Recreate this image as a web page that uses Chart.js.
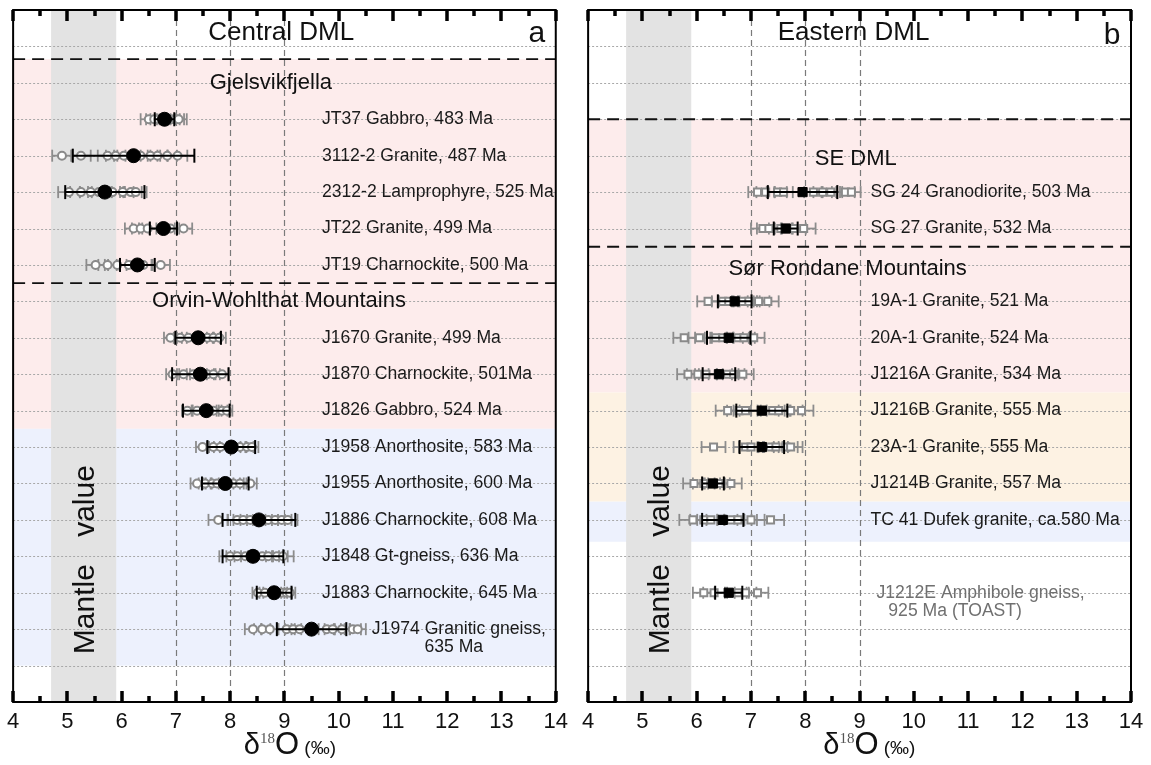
<!DOCTYPE html>
<html><head><meta charset="utf-8">
<script src="https://cdn.jsdelivr.net/npm/chart.js@4.4.1/dist/chart.umd.min.js"></script>
<style>
html,body{margin:0;padding:0;background:#fff;width:1151px;height:765px;overflow:hidden}
canvas{position:absolute;top:0}
#cA{left:0}
#cB{left:575px}
</style></head><body>
<canvas id="cA" width="575" height="765"></canvas>
<canvas id="cB" width="576" height="765"></canvas>
<script>
// ================= DATA =================
const xTicks = [4,5,6,7,8,9,10,11,12,13,14];
const xMinorTicks = [4.5,5.5,6.5,7.5,8.5,9.5,10.5,11.5,12.5,13.5];
const mantleRange = [4.7, 5.9];

// ---- Panel a: Central DML ----
const aSamples = ['JT37 Gabbro, 483 Ma','3112-2 Granite, 487 Ma','2312-2 Lamprophyre, 525 Ma','JT22 Granite, 499 Ma','JT19 Charnockite, 500 Ma',
  'J1670 Granite, 499 Ma','J1870 Charnockite, 501Ma','J1826 Gabbro, 524 Ma','J1958 Anorthosite, 583 Ma','J1955 Anorthosite, 600 Ma',
  'J1886 Charnockite, 608 Ma','J1848 Gt-gneiss, 636 Ma','J1883 Charnockite, 645 Ma','J1974 Granitic gneiss,\n635 Ma'];
const aRows = [3,4,5,6,7,9,10,11,12,13,14,15,16,17];
const aMean = [6.79,6.22,5.69,6.77,6.29,7.41,7.45,7.56,8.02,7.91,8.53,8.42,8.81,9.50];
const aMeanErr = [0.18,1.12,0.73,0.25,0.32,0.42,0.52,0.43,0.44,0.43,0.67,0.56,0.32,0.64];
const aSpots = [
  [6.5,6.6,6.68,6.85,6.92,7.0,7.05],
  [4.9,5.25,5.74,5.89,6.04,6.35,6.53,6.66,6.84,7.03],
  [5.03,5.25,5.43,5.58,5.83,6.02,6.17,6.26],
  [6.22,6.35,6.48,6.9,7.14],
  [5.52,5.74,5.92,6.13,6.4,6.72],
  [6.9,7.08,7.23,7.58,7.69,7.8],
  [6.94,7.14,7.32,7.58,7.69,7.85],
  [7.21,7.39,7.69,7.85,7.94],
  [7.49,7.69,7.82,8.18,8.31,8.4],
  [7.39,7.54,7.67,7.76,8.06,8.18,8.37],
  [7.78,8.13,8.24,8.37,8.7,8.83,8.95,9.06],
  [8.0,8.13,8.28,8.59,8.7,8.86,8.97],
  [8.51,8.64,8.95,9.04,9.1],
  [8.42,8.59,8.73,9.04,9.16,9.28,9.78,9.89,10.06,10.26,10.35]
];
const aSpotErr = [0.15,0.18,0.2,0.16,0.17,0.12,0.12,0.1,0.12,0.12,0.18,0.2,0.1,0.15];
const aGroups = ['Central DML','a','Gjelsvikfjella','Orvin-Wohlthat Mountains'];

// ---- Panel b: Eastern DML ----
const bSamples = ['SG 24 Granodiorite, 503 Ma','SG 27 Granite, 532 Ma','19A-1 Granite, 521 Ma','20A-1 Granite, 524 Ma','J1216A Granite, 534 Ma',
  'J1216B Granite, 555 Ma','23A-1 Granite, 555 Ma','J1214B Granite, 557 Ma','TC 41 Dufek granite, ca.580 Ma','J1212E Amphibole gneiss,\n925 Ma (TOAST)'];
const bRows = [5,6,8,9,10,11,12,13,14,16];
const bMean = [7.95,7.64,6.70,6.59,6.41,7.20,7.20,6.30,6.48,6.59];
const bMeanErr = [0.64,0.22,0.31,0.40,0.30,0.47,0.41,0.20,0.38,0.25];
const bSpots = [
  [7.12,7.27,7.49,7.6,8.15,8.32,8.47,8.74,8.85],
  [7.22,7.33,7.55,7.79,7.97],
  [6.21,6.48,6.59,6.85,6.96,7.14,7.31],
  [5.77,6.05,6.35,6.48,6.76,6.87,7.05],
  [5.84,6.02,6.17,6.57,6.68,6.85],
  [6.57,6.78,6.9,7.4,7.51,7.73,7.93],
  [6.31,6.9,7.0,7.36,7.46,7.64,7.73],
  [5.95,6.13,6.32,6.41,6.63],
  [5.93,6.13,6.26,6.63,6.76,7.0,7.36],
  [6.13,6.32,6.76,6.9,7.12]
];
const bSpotErr = [0.17,0.22,0.2,0.2,0.2,0.22,0.22,0.2,0.25,0.2];
const bGroups = ['Eastern DML','b','SE DML','Sør Rondane Mountains'];

// ================= LAYOUT / STYLE =================
const FONT = "'Liberation Sans', Arial, sans-serif";
const LABEL_FONT = '17.6px ' + FONT;
const PANELS = {
  cA: {
    samples:aSamples, rows:aRows, mean:aMean, meanErr:aMeanErr, spots:aSpots, spotErr:aSpotErr,
    style:'circle', meanR:7, spotR:4, padRight:18,
    labelX:[9.69,9.69,9.69,9.69,9.69,9.69,9.69,9.69,9.69,9.69,9.69,9.69,9.69,10.61],
    labelX2:[0,0,0,0,0,0,0,0,0,0,0,0,0,11.58],
    labelColor:aSamples.map(()=> '#1a1a1a'),
    groupText:[
      {i:0,x:8.94,y:0.63,size:26},
      {i:1,x:13.65,y:0.66,size:30},
      {i:2,x:8.75,y:2,size:22},
      {i:3,x:8.9,y:8,size:22}],
    groups:aGroups,
    bands:[{from:1.35,to:11.5,color:'#fdecec'},{from:11.5,to:18,color:'#edf1fd'}],
    separators:[1.35,7.5],
    titleX:9.1
  },
  cB: {
    samples:bSamples, rows:bRows, mean:bMean, meanErr:bMeanErr, spots:bSpots, spotErr:bSpotErr,
    style:'rect', meanR:6.5, spotR:5, padRight:20,
    labelX:[9.2,9.2,9.2,9.2,9.2,9.2,9.2,9.2,9.2,9.31],
    labelX2:[0,0,0,0,0,0,0,0,0,9.53],
    labelColor:['#1a1a1a','#1a1a1a','#1a1a1a','#1a1a1a','#1a1a1a','#1a1a1a','#1a1a1a','#1a1a1a','#1a1a1a','#707070'],
    groupText:[
      {i:0,x:8.89,y:0.63,size:26},
      {i:1,x:13.65,y:0.72,size:30},
      {i:2,x:8.93,y:4.1,size:22},
      {i:3,x:8.78,y:7.1,size:22}],
    groups:bGroups,
    bands:[{from:3,to:10.5,color:'#fdecec'},{from:10.5,to:13.5,color:'#fdf2e3'},{from:13.5,to:14.6,color:'#edf1fd'}],
    separators:[3,6.5],
    titleX:9.18
  }
};

function line(ctx,x0,y0,x1,y1){ctx.beginPath();ctx.moveTo(x0,y0);ctx.lineTo(x1,y1);ctx.stroke();}
function txt(ctx,s,px,py,font,color,align){ctx.font=font;ctx.fillStyle=color;ctx.textAlign=align;ctx.textBaseline='middle';ctx.fillText(s,px,py);}

function drawFrameTicks(ctx, ca, x){
  ctx.save();
  ctx.setLineDash([]);
  ctx.fillStyle='#000';
  xTicks.forEach(v=>{
    const px=Math.round(x.getPixelForValue(v));
    ctx.fillRect(px-1.5, ca.top, 3, 11);
    ctx.fillRect(px-1.5, ca.bottom-11, 3, 11);
  });
  xMinorTicks.forEach(v=>{
    const px=Math.round(x.getPixelForValue(v));
    ctx.fillRect(px-1.5, ca.top, 3, 6);
    ctx.fillRect(px-1.5, ca.bottom-6, 3, 6);
  });
  ctx.restore();
}

const panelPlugin = {
  id:'panel',
  beforeDatasetsDraw(chart){
    const P = PANELS[chart.canvas.id];
    const {ctx, chartArea:ca, scales:{x,y}} = chart;
    ctx.save();
    ctx.beginPath(); ctx.rect(ca.left,ca.top,ca.width,ca.height); ctx.clip();
    P.bands.forEach(b=>{
      const y0=y.getPixelForValue(b.from), y1=y.getPixelForValue(b.to);
      ctx.fillStyle=b.color; ctx.fillRect(ca.left,y0,ca.width,y1-y0);
    });
    const mx0=x.getPixelForValue(mantleRange[0]), mx1=x.getPixelForValue(mantleRange[1]);
    ctx.fillStyle='#e3e3e3'; ctx.fillRect(mx0,ca.top,mx1-mx0,ca.height);
    // dotted row grid
    ctx.strokeStyle='#a8a8a8'; ctx.lineWidth=1; ctx.setLineDash([2,2]);
    for(let r=1;r<=18;r++){
      const py=Math.round(y.getPixelForValue(r))+0.5;
      line(ctx,ca.left,py,ca.right,py);
    }
    // vertical dashed at 7,8,9
    ctx.strokeStyle='#7a7a7a'; ctx.lineWidth=1.2; ctx.setLineDash([6,4]);
    [7,8,9].forEach(v=>{const px=Math.round(x.getPixelForValue(v))+0.5; line(ctx,px,ca.top,px,ca.bottom);});
    // black separators
    ctx.strokeStyle='#111'; ctx.lineWidth=1.8; ctx.setLineDash([12,7]);
    P.separators.forEach(v=>{const py=y.getPixelForValue(v); line(ctx,ca.left,py,ca.right,py);});
    ctx.setLineDash([]);
    // mantle value text
    const mc=(mx0+mx1)/2;
    ctx.save();
    ctx.translate(mc+2,0);
    ctx.rotate(-Math.PI/2);
    txt(ctx,'value',-y.getPixelForValue(13.48),0,'30px '+FONT,'#111','center');
    txt(ctx,'Mantle',-y.getPixelForValue(16.45),0,'30px '+FONT,'#111','center');
    ctx.restore();
    ctx.restore();
    drawFrameTicks(ctx, ca, x);
  },
  beforeDatasetDraw(chart,args){
    const ds=chart.data.datasets[args.index];
    const {ctx, scales:{x,y}} = chart;
    ctx.save();
    ctx.setLineDash([]);
    ctx.strokeStyle=ds.errColor; ctx.lineWidth=ds.errWidth;
    ds.data.forEach(p=>{
      const xl=x.getPixelForValue(p.x-p.err), xr=x.getPixelForValue(p.x+p.err), py=y.getPixelForValue(p.y);
      line(ctx,xl,py,xr,py);
      line(ctx,xl,py-ds.capH,xl,py+ds.capH);
      line(ctx,xr,py-ds.capH,xr,py+ds.capH);
    });
    ctx.restore();
  },
  afterDraw(chart){
    const P = PANELS[chart.canvas.id];
    const ctx = chart.ctx, ca = chart.chartArea, x = chart.scales.x, y = chart.scales.y;
    ctx.save();
    ctx.setLineDash([]);
    // sample labels
    P.samples.forEach((s,i)=>{
      const parts=s.split('\n');
      txt(ctx,parts[0],x.getPixelForValue(P.labelX[i]),y.getPixelForValue(P.rows[i]),LABEL_FONT,P.labelColor[i],'left');
      if(parts[1]) txt(ctx,parts[1],x.getPixelForValue(P.labelX2[i]),y.getPixelForValue(P.rows[i]+0.5),LABEL_FONT,P.labelColor[i],'left');
    });
    P.groupText.forEach(g=>{
      txt(ctx,P.groups[g.i],x.getPixelForValue(g.x),y.getPixelForValue(g.y),g.size+'px '+FONT,'#111','center');
    });
    // frame
    ctx.strokeStyle='#000'; ctx.lineWidth=2;
    ctx.strokeRect(ca.left,ca.top,ca.width,ca.height);
    ctx.restore();
    drawFrameTicks(ctx, ca, x);
    // axis title  δ18O (‰)
    ctx.save();
    const parts=[
      {t:'δ',f:'29px '+FONT,c:'#111',dy:0},
      {t:'18',f:'15px "Liberation Serif", serif',c:'#555',dy:-11},
      {t:'O',f:'31px '+FONT,c:'#111',dy:0},
      {t:' (‰)',f:'19px '+FONT,c:'#111',dy:0}];
    let w=0; parts.forEach(p=>{ctx.font=p.f; p.w=ctx.measureText(p.t).width; w+=p.w;});
    let cx=x.getPixelForValue(P.titleX)-w/2; const by=ca.bottom+52;
    ctx.textBaseline='alphabetic'; ctx.textAlign='left';
    parts.forEach(p=>{ctx.font=p.f; ctx.fillStyle=p.c; ctx.fillText(p.t,cx,by+p.dy); cx+=p.w;});
    ctx.restore();
  }
};

function buildPanel(id){
  const P = PANELS[id];
  const meanPts = P.rows.map((r,i)=>({x:P.mean[i], y:r, err:P.meanErr[i]}));
  const spotPts = [];
  P.rows.forEach((r,i)=>P.spots[i].forEach(v=>spotPts.push({x:v, y:r, err:P.spotErr[i]})));
  return new Chart(document.getElementById(id), {
    type:'scatter',
    data:{datasets:[
      {label:'mean', data:meanPts, pointStyle:P.style, pointRadius:P.meanR, backgroundColor:'#000', borderColor:'#000', borderWidth:1,
       errColor:'#000', errWidth:2, capH:7},
      {label:'spots', data:spotPts, pointStyle:P.style, pointRadius:P.spotR, backgroundColor:'#ffffff', borderColor:'#8a8a8a', borderWidth:2,
       errColor:'#8c8c8c', errWidth:1.8, capH:6}
    ]},
    options:{
      responsive:false, animation:false, events:[],
      layout:{padding:{left:12, right:P.padRight, top:10, bottom:0}},
      plugins:{legend:{display:false}, tooltip:{enabled:false}},
      scales:{
        x:{type:'linear', min:xTicks[0], max:xTicks[xTicks.length-1], position:'bottom',
           afterBuildTicks(s){ s.ticks = xTicks.map(v=>({value:v})); },
           ticks:{color:'#111', font:{family:'Liberation Sans', size:22}, padding:7, maxRotation:0, autoSkip:false},
           grid:{display:false, drawTicks:false}, border:{display:false},
           afterFit(s){ s.height = 63; }},
        y:{type:'linear', min:0, max:19, reverse:true, display:false}
      }
    },
    plugins:[panelPlugin]
  });
}
buildPanel('cA');
buildPanel('cB');
</script>
</body></html>
